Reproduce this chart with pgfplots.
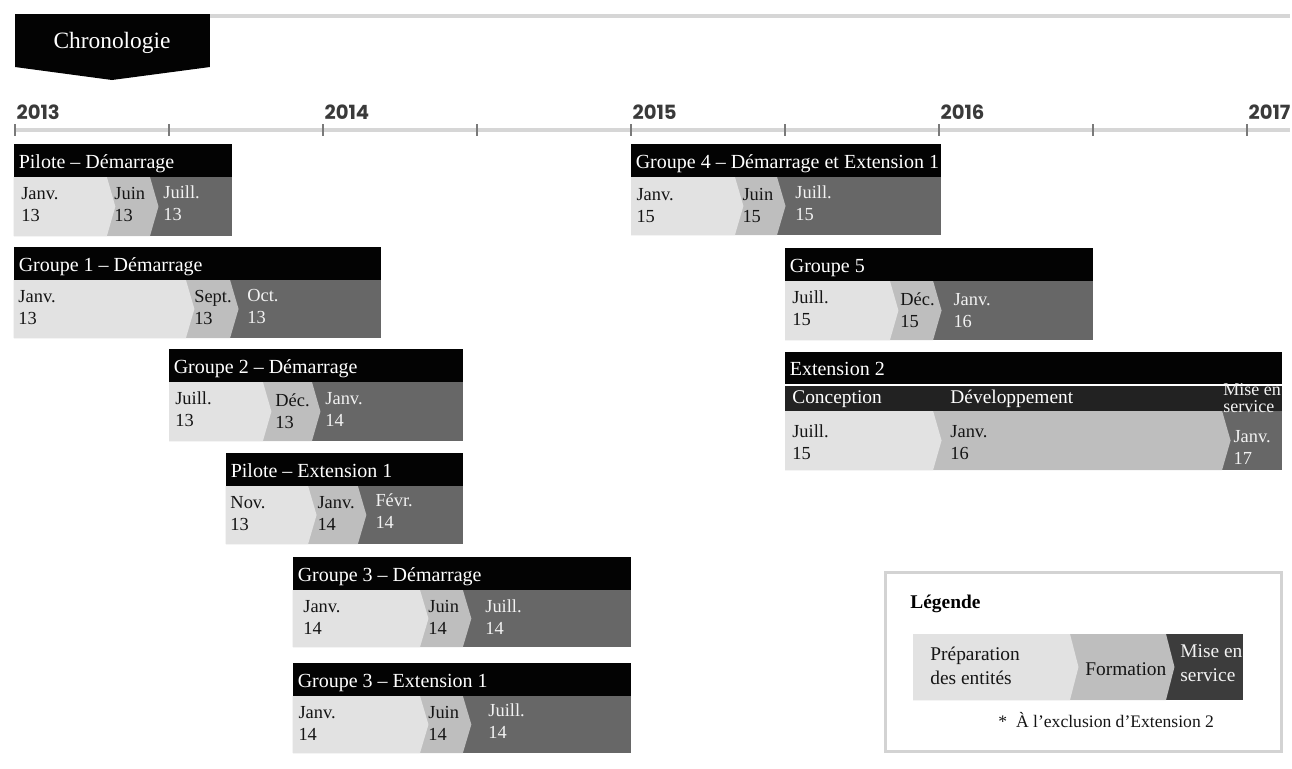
\documentclass[border=0pt]{standalone}
\usepackage{fontspec}
\setmainfont{Liberation Serif}
\newfontfamily\yearfont{Poppins}
\usepackage{pgfplots}
\pgfplotsset{compat=1.18}

\definecolor{cLt}{HTML}{E2E2E2}
\definecolor{cMd}{HTML}{BEBEBE}
\definecolor{cDk}{HTML}{676767}
\definecolor{cHd}{HTML}{030303}
\definecolor{cSub}{HTML}{222222}
\definecolor{cLeg}{HTML}{3C3C3C}
\definecolor{cRule}{HTML}{D6D6D6}
\definecolor{cBox}{HTML}{D3D3D3}
\definecolor{cTick}{HTML}{7A7A7A}
\definecolor{cYear}{HTML}{3A3A3A}
\definecolor{cTxt}{HTML}{151515}
\definecolor{cWt}{HTML}{F2F2F2}

\newcommand\hdf{\fontsize{10}{12}\selectfont}
\newcommand\bdf{\fontsize{9.2}{11}\selectfont}
\newcommand\yrf{\yearfont\bfseries\fontsize{9.8}{11}\selectfont}

% band: [dark colour] x0, end of light, end of mid, x1, ytop, ybottom
\newcommand{\band}[7][cDk]{%
 \pgfmathsetmacro\BYm{(#6+#7)/2}%
 \pgfmathsetmacro\BXl{#3+0.33}%
 \pgfmathsetmacro\BXm{#4+0.33}%
 \edef\tmp{%
 \noexpand\addplot[fill=#1,draw=none] coordinates {(#2,#6) (#5,#6) (#5,#7) (#2,#7)};%
 \noexpand\addplot[fill=cMd,draw=none] coordinates {(#2,#6) (#4,#6) (\BXm,\BYm) (#4,#7) (#2,#7)};%
 \noexpand\addplot[fill=cLt,draw=none] coordinates {(#2,#6) (#3,#6) (\BXl,\BYm) (#3,#7) (#2,#7)};%
 }\tmp}
% header: x0, x1, ytop, ybottom, title
\newcommand{\hdr}[5]{%
 \addplot[fill=cHd,draw=none] coordinates {(#1,#3) (#2,#3) (#2,#4) (#1,#4)};
 \node[anchor=base west, inner sep=0pt, text=white, font=\hdf, xshift=2.2pt, yshift=4.5pt] at (axis cs:#1,#4) {#5};}
% two-line label: x, ytop, line1, line2, colour
\newcommand{\lab}[5]{%
 \node[anchor=base west, inner sep=0pt, text=#5, font=\bdf, yshift=-11pt] at (axis cs:#1,#2) {#3};
 \node[anchor=base west, inner sep=0pt, text=#5, font=\bdf, yshift=-22pt] at (axis cs:#1,#2) {#4};}

\begin{document}
\begin{tikzpicture}
\begin{axis}[scale only axis, width=646pt, height=384pt,
 xmin=-0.58442, xmax=49.7532, ymin=0, ymax=768, y dir=reverse,
 axis lines=none, ticks=none, clip=false]

% top rule and Chronologie tab
\addplot[cRule, line width=2pt] coordinates {(7.597,16) (49.675,16)};
\addplot[fill=cHd, draw=none] coordinates {(0,14) (7.597,14) (7.597,67) (3.779,80) (0,67)};
\node[anchor=base, inner sep=0pt, text=white, font=\fontsize{11.7}{13}\selectfont] at (axis cs:3.779,48) {Chronologie};

% time axis
\addplot[cRule, line width=2.2pt] coordinates {(0,130) (49.675,130)};
\pgfplotsinvokeforeach{0,6,12,18,24,30,36,42,48}{\addplot[cTick, line width=0.6pt] coordinates {(#1,124) (#1,136)};}
\node[anchor=base west, inner sep=0pt, text=cYear, font=\yrf, xshift=0.6pt] at (axis cs:0,119) {2013};
\node[anchor=base west, inner sep=0pt, text=cYear, font=\yrf, xshift=0.6pt] at (axis cs:12,119) {2014};
\node[anchor=base west, inner sep=0pt, text=cYear, font=\yrf, xshift=0.6pt] at (axis cs:24,119) {2015};
\node[anchor=base west, inner sep=0pt, text=cYear, font=\yrf, xshift=0.6pt] at (axis cs:36,119) {2016};
\node[anchor=base west, inner sep=0pt, text=cYear, font=\yrf, xshift=0.6pt] at (axis cs:48,119) {2017};

% Pilote - Demarrage
\hdr{-0.04}{8.45}{144}{177}{Pilote – Démarrage}
\band{-0.04}{3.58}{5.26}{8.45}{177}{236}
\lab{0.23}{177}{Janv.}{13}{cTxt}
\lab{3.86}{177}{Juin}{13}{cTxt}
\lab{5.77}{176}{Juill.}{13}{cWt}

% Groupe 1
\hdr{-0.04}{14.26}{247}{280}{Groupe 1 – Démarrage}
\band{-0.04}{6.66}{8.38}{14.26}{280}{338}
\lab{0.12}{280}{Janv.}{13}{cTxt}
\lab{6.97}{280}{Sept.}{13}{cTxt}
\lab{9.04}{279}{Oct.}{13}{cWt}

% Groupe 2
\hdr{6.0}{17.45}{349}{382}{Groupe 2 – Démarrage}
\band{6.0}{9.66}{11.57}{17.45}{382}{441}
\lab{6.23}{382}{Juill.}{13}{cTxt}
\lab{10.13}{384}{Déc.}{13}{cTxt}
\lab{12.08}{382}{Janv.}{14}{cWt}

% Pilote - Extension 1
\hdr{8.22}{17.45}{453}{486}{Pilote – Extension 1}
\band{8.22}{11.42}{13.36}{17.45}{486}{544}
\lab{8.38}{486}{Nov.}{13}{cTxt}
\lab{11.77}{486}{Janv.}{14}{cTxt}
\lab{14.03}{484}{Févr.}{14}{cWt}

% Groupe 3 - Demarrage
\hdr{10.83}{24.0}{557}{590}{Groupe 3 – Démarrage}
\band{10.83}{15.78}{17.45}{24.0}{590}{647}
\lab{11.22}{590}{Janv.}{14}{cTxt}
\lab{16.09}{590}{Juin}{14}{cTxt}
\lab{18.31}{590}{Juill.}{14}{cWt}

% Groupe 3 - Extension 1
\hdr{10.83}{24.0}{663}{696}{Groupe 3 – Extension 1}
\band{10.83}{15.78}{17.45}{24.0}{696}{753}
\lab{11.03}{696}{Janv.}{14}{cTxt}
\lab{16.09}{696}{Juin}{14}{cTxt}
\lab{18.43}{694}{Juill.}{14}{cWt}

% Groupe 4
\hdr{24.0}{36.08}{144}{177}{Groupe 4 – Démarrage et Extension 1}
\band{24.0}{28.05}{29.69}{36.08}{177}{235}
\lab{24.2}{178}{Janv.}{15}{cTxt}
\lab{28.33}{178}{Juin}{15}{cTxt}
\lab{30.39}{176}{Juill.}{15}{cWt}

% Groupe 5
\hdr{30.0}{42.0}{248}{281}{Groupe 5}
\band{30.0}{34.09}{35.77}{42.0}{281}{340}
\lab{30.27}{281}{Juill.}{15}{cTxt}
\lab{34.48}{283}{Déc.}{15}{cTxt}
\lab{36.55}{283}{Janv.}{16}{cWt}

% Extension 2
\hdr{30.0}{49.36}{352}{384}{Extension 2}
\addplot[fill=cSub, draw=none] coordinates {(30.0,386) (49.36,386) (49.36,411) (30.0,411)};
\band{30.0}{35.77}{47.03}{49.36}{411}{470}
\node[anchor=base west, inner sep=0pt, text=white, font=\fontsize{9.7}{11}\selectfont] at (axis cs:30.27,403) {Conception};
\node[anchor=base west, inner sep=0pt, text=white, font=\fontsize{9.7}{11}\selectfont] at (axis cs:36.43,403) {Développement};
\node[anchor=base west, inner sep=0pt, text=cWt, font=\fontsize{9}{9}\selectfont] at (axis cs:47.06,395) {Mise en};
\node[anchor=base west, inner sep=0pt, text=cWt, font=\fontsize{9}{9}\selectfont] at (axis cs:47.06,412) {service};
\lab{30.27}{415}{Juill.}{15}{cTxt}
\lab{36.43}{415}{Janv.}{16}{cTxt}
\lab{47.46}{420}{Janv.}{17}{cWt}

% Legend
\addplot[draw=cBox, line width=1.5pt] coordinates {(33.916,572.5) (49.325,572.5) (49.325,751.5) (33.916,751.5)} -- cycle;
\band[cLeg]{34.987}{41.104}{44.844}{47.844}{634}{700}
\node[anchor=base west, inner sep=0pt, text=black, font=\fontsize{9.7}{11}\selectfont\bfseries] at (axis cs:34.87,608) {Légende};
\node[anchor=base west, inner sep=0pt, text=cTxt, font=\fontsize{9.7}{11}\selectfont] at (axis cs:35.65,660) {Préparation};
\node[anchor=base west, inner sep=0pt, text=cTxt, font=\fontsize{9.7}{11}\selectfont] at (axis cs:35.65,684) {des entités};
\node[anchor=base west, inner sep=0pt, text=cTxt, font=\fontsize{9.7}{11}\selectfont] at (axis cs:41.69,675) {Formation};
\node[anchor=base west, inner sep=0pt, text=cWt, font=\fontsize{9.7}{11}\selectfont] at (axis cs:45.39,657) {Mise en};
\node[anchor=base west, inner sep=0pt, text=cWt, font=\fontsize{9.7}{11}\selectfont] at (axis cs:45.39,681) {service};
\node[anchor=base west, inner sep=0pt, text=cTxt, font=\fontsize{8.8}{10}\selectfont] at (axis cs:38.30,727) {*\ \ À l'exclusion d'Extension 2};

\end{axis}
\pgfresetboundingbox
\path[use as bounding box] (current axis.south west) rectangle (current axis.north east);
\end{tikzpicture}
\end{document}
